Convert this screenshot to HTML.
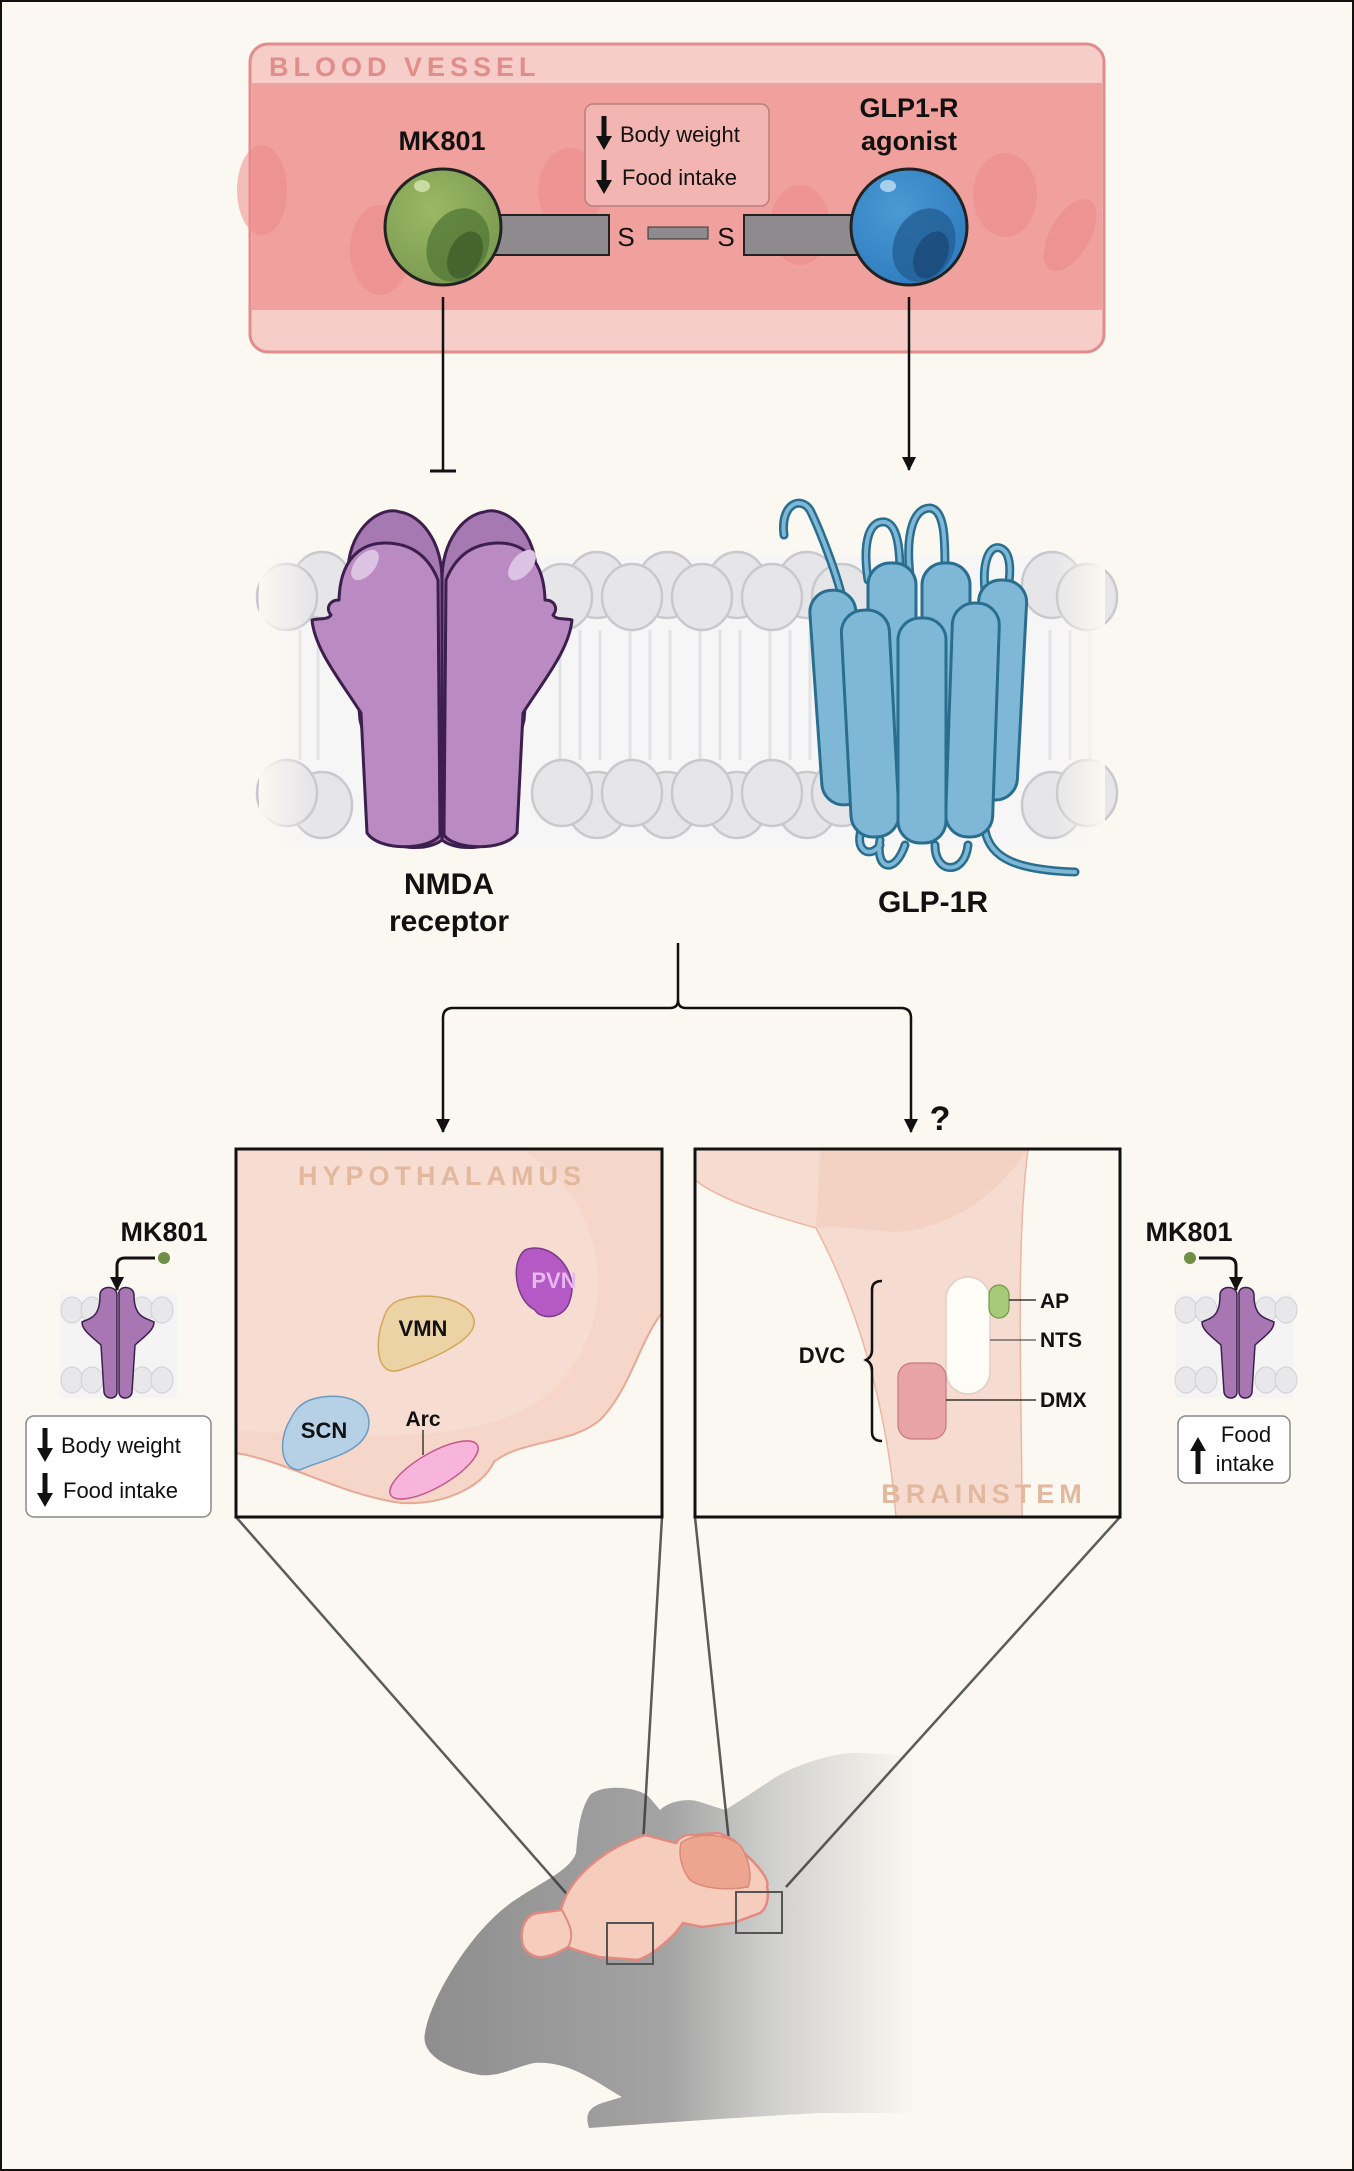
<!DOCTYPE html>
<html><head><meta charset="utf-8"><style>
html,body{margin:0;padding:0;background:#fbf8f1}
svg{display:block}
text{font-family:"Liberation Sans",Arial,sans-serif}
</style></head><body>
<svg width="1354" height="2171" viewBox="0 0 1354 2171" xmlns="http://www.w3.org/2000/svg">
<defs>
<marker id="ah" markerWidth="14" markerHeight="14" refX="13" refY="7" orient="auto" markerUnits="userSpaceOnUse"><path d="M0,0 L14,7 L0,14 z" fill="#111"/></marker>
<linearGradient id="mouse" x1="0" x2="1" y1="0" y2="0"><stop offset="0" stop-color="#8e8e8e"/><stop offset="0.45" stop-color="#a3a3a3"/><stop offset="0.65" stop-color="#d0d0ce"/><stop offset="0.92" stop-color="#fbf8f1"/><stop offset="1" stop-color="#fbf8f1"/></linearGradient>
<radialGradient id="g1" cx="0.4" cy="0.35" r="0.7"><stop offset="0" stop-color="#9ab865"/><stop offset="1" stop-color="#7b9a50"/></radialGradient>
<radialGradient id="b1" cx="0.4" cy="0.35" r="0.7"><stop offset="0" stop-color="#4a9ad4"/><stop offset="1" stop-color="#2f7cbf"/></radialGradient>
<linearGradient id="memfade" x1="0" x2="1"><stop offset="0" stop-color="#fbf8f1"/><stop offset="0.06" stop-color="#fbf8f1" stop-opacity="0"/><stop offset="0.94" stop-color="#fbf8f1" stop-opacity="0"/><stop offset="1" stop-color="#fbf8f1"/></linearGradient>
</defs>
<rect x="1" y="1" width="1352" height="2169" fill="#fbf8f1" stroke="#111" stroke-width="2"/>

<!-- blood vessel -->
<rect x="250" y="44" width="854" height="308" rx="18" fill="#f6cdc8" stroke="#e08d8c" stroke-width="3"/>
<rect x="252" y="83" width="850" height="227" fill="#f0a09d"/>
<g fill="#ec8c8a" opacity="0.55">
<ellipse cx="262" cy="190" rx="25" ry="45"/><ellipse cx="380" cy="250" rx="30" ry="45"/><ellipse cx="570" cy="190" rx="32" ry="42"/>
<ellipse cx="800" cy="225" rx="30" ry="40"/><ellipse cx="1005" cy="195" rx="32" ry="42"/><ellipse cx="1070" cy="235" rx="20" ry="40" transform="rotate(30 1070 235)"/>
</g>
<text x="269" y="76" font-size="27" fill="#e08d8c" letter-spacing="5" font-weight="bold">BLOOD VESSEL</text>
<rect x="585" y="104" width="184" height="102" rx="8" fill="#f3b5b1" stroke="#b87e7e" stroke-width="1.5"/>
<path d="M604 116 v22" stroke="#111" stroke-width="5"/><path d="M596 136 L612 136 L604 150z" fill="#111"/>
<path d="M604 160 v22" stroke="#111" stroke-width="5"/><path d="M596 180 L612 180 L604 194z" fill="#111"/>
<text x="620" y="142" font-size="22" fill="#111">Body weight</text>
<text x="622" y="185" font-size="22" fill="#111">Food intake</text>
<text x="442" y="150" font-size="27" font-weight="bold" text-anchor="middle" fill="#111">MK801</text>
<text x="909" y="117" font-size="27" font-weight="bold" text-anchor="middle" fill="#111">GLP1-R</text>
<text x="909" y="150" font-size="27" font-weight="bold" text-anchor="middle" fill="#111">agonist</text>
<rect x="490" y="215" width="119" height="40" fill="#8f8a8d" stroke="#222" stroke-width="2"/>
<rect x="744" y="215" width="115" height="40" fill="#8f8a8d" stroke="#222" stroke-width="2"/>
<rect x="648" y="227" width="60" height="12" fill="#8f8a8d" stroke="#333" stroke-width="1"/>
<text x="626" y="246" font-size="26" text-anchor="middle" fill="#111">S</text>
<text x="726" y="246" font-size="26" text-anchor="middle" fill="#111">S</text>
<circle cx="443" cy="227" r="58" fill="url(#g1)" stroke="#222" stroke-width="3"/>
<ellipse cx="458" cy="245" rx="30" ry="38" fill="#557a38" opacity="0.8" transform="rotate(25 458 245)"/>
<ellipse cx="465" cy="255" rx="16" ry="25" fill="#3f5e2c" opacity="0.8" transform="rotate(25 465 255)"/>
<ellipse cx="422" cy="186" rx="8" ry="6" fill="#c8dca0"/>
<circle cx="909" cy="227" r="58" fill="url(#b1)" stroke="#222" stroke-width="3"/>
<ellipse cx="924" cy="245" rx="30" ry="38" fill="#235f95" opacity="0.8" transform="rotate(25 924 245)"/>
<ellipse cx="931" cy="255" rx="16" ry="25" fill="#1a4a78" opacity="0.8" transform="rotate(25 931 255)"/>
<ellipse cx="888" cy="186" rx="8" ry="6" fill="#a8d0ee"/>

<!-- connectors top -->
<line x1="443" y1="297" x2="443" y2="470" stroke="#111" stroke-width="2.5"/>
<line x1="430" y1="471" x2="456" y2="471" stroke="#111" stroke-width="3"/>
<line x1="909" y1="297" x2="909" y2="470" stroke="#111" stroke-width="2.5" marker-end="url(#ah)"/>

<!-- membrane -->
<g>
<rect x="259" y="555" width="846" height="292" fill="#f6f6f6"/>
<g stroke="#e2e2e5" stroke-width="3" fill="none">
<path d="M300 630 V760 M318 630 V760 M560 630 V760 M580 630 V760 M600 630 V760 M630 630 V760 M650 630 V760 M670 630 V760 M700 630 V760 M720 630 V760 M740 630 V760 M770 630 V760 M790 630 V760 M810 630 V760 M1050 630 V760 M1070 630 V760 M1090 630 V760"/>
</g>
<g fill="#e6e6e9" stroke="#c8c8cd" stroke-width="2.5">
<ellipse cx="322" cy="585" rx="30" ry="33"/><ellipse cx="597" cy="585" rx="30" ry="33"/><ellipse cx="667" cy="585" rx="30" ry="33"/><ellipse cx="737" cy="585" rx="30" ry="33"/><ellipse cx="807" cy="585" rx="30" ry="33"/><ellipse cx="1052" cy="585" rx="30" ry="33"/>
<ellipse cx="287" cy="597" rx="30" ry="33"/><ellipse cx="562" cy="597" rx="30" ry="33"/><ellipse cx="632" cy="597" rx="30" ry="33"/><ellipse cx="702" cy="597" rx="30" ry="33"/><ellipse cx="772" cy="597" rx="30" ry="33"/><ellipse cx="842" cy="597" rx="30" ry="33"/><ellipse cx="1087" cy="597" rx="30" ry="33"/>
<ellipse cx="322" cy="805" rx="30" ry="33"/><ellipse cx="597" cy="805" rx="30" ry="33"/><ellipse cx="667" cy="805" rx="30" ry="33"/><ellipse cx="737" cy="805" rx="30" ry="33"/><ellipse cx="807" cy="805" rx="30" ry="33"/><ellipse cx="1052" cy="805" rx="30" ry="33"/>
<ellipse cx="287" cy="793" rx="30" ry="33"/><ellipse cx="562" cy="793" rx="30" ry="33"/><ellipse cx="632" cy="793" rx="30" ry="33"/><ellipse cx="702" cy="793" rx="30" ry="33"/><ellipse cx="772" cy="793" rx="30" ry="33"/><ellipse cx="842" cy="793" rx="30" ry="33"/><ellipse cx="1087" cy="793" rx="30" ry="33"/>
</g>
<rect x="259" y="540" width="846" height="320" fill="url(#memfade)"/>
</g>
<!-- NMDA -->
<g stroke="#3d1f4e" stroke-width="3" stroke-linejoin="round">
<path d="M348 580 C345 530 380 505 400 512 C420 515 442 540 442 580 L442 840 C430 850 400 850 390 840 L360 720z" fill="#a779b3"/>
<path d="M536 580 C539 530 504 505 484 512 C464 515 442 540 442 580 L442 840 C454 850 484 850 494 840 L524 720z" fill="#a779b3"/>
<path d="M339 600 C340 560 360 543 385 543 C415 543 430 560 438 580 L440 835 C430 850 380 852 367 833 L361 713 C340 680 315 650 312 620 C320 618 328 620 331 615 C325 608 330 600 339 600z" fill="#b98bc2"/>
<path d="M545 600 C544 560 524 543 499 543 C469 543 454 560 446 580 L444 835 C454 850 504 852 517 833 L523 713 C544 680 569 650 572 620 C564 618 556 620 553 615 C559 608 554 600 545 600z" fill="#b98bc2"/>
</g>
<ellipse cx="365" cy="565" rx="18" ry="10" fill="#dcc3e3" transform="rotate(-50 365 565)"/>
<ellipse cx="522" cy="565" rx="18" ry="10" fill="#dcc3e3" transform="rotate(-50 522 565)"/>
<text x="449" y="894" font-size="30" font-weight="bold" text-anchor="middle" fill="#111">NMDA</text>
<text x="449" y="931" font-size="30" font-weight="bold" text-anchor="middle" fill="#111">receptor</text>
<!-- GLP-1R -->
<g stroke="#2a6e8f" stroke-width="9" fill="none" stroke-linecap="round">
<path d="M784 535 C780 505 800 495 810 510 C820 530 835 570 841 593"/>
<path d="M868 580 C862 540 870 520 885 522 C900 525 900 560 900 575"/>
<path d="M910 575 C905 530 915 508 930 508 C945 510 945 540 945 570"/>
<path d="M985 590 C982 560 990 545 1000 548 C1012 552 1012 575 1005 600"/>
<path d="M880 840 C875 870 895 875 905 845"/>
<path d="M935 845 C935 875 965 875 968 845"/>
<path d="M985 830 C990 860 1020 870 1075 872"/>
<path d="M865 820 C850 850 870 860 880 845"/>
</g>
<g stroke="#7fb8d6" stroke-width="4" fill="none" stroke-linecap="round">
<path d="M784 535 C780 505 800 495 810 510 C820 530 835 570 841 593"/>
<path d="M868 580 C862 540 870 520 885 522 C900 525 900 560 900 575"/>
<path d="M910 575 C905 530 915 508 930 508 C945 510 945 540 945 570"/>
<path d="M985 590 C982 560 990 545 1000 548 C1012 552 1012 575 1005 600"/>
<path d="M880 840 C875 870 895 875 905 845"/>
<path d="M935 845 C935 875 965 875 968 845"/>
<path d="M985 830 C990 860 1020 870 1075 872"/>
<path d="M865 820 C850 850 870 860 880 845"/>
</g>
<g stroke="#2a6e8f" stroke-width="3" fill="#7fb8d6">
<rect x="868" y="563" width="48" height="245" rx="22"/>
<rect x="922" y="563" width="48" height="245" rx="22"/>
<rect x="816" y="590" width="46" height="215" rx="22" transform="rotate(-4 839 700)"/>
<rect x="974" y="580" width="48" height="220" rx="22" transform="rotate(3 998 690)"/>
<rect x="846" y="610" width="48" height="227" rx="22" transform="rotate(-3 870 720)"/>
<rect x="949" y="603" width="47" height="234" rx="22" transform="rotate(2 972 720)"/>
<rect x="898" y="618" width="48" height="225" rx="22"/>
</g>
<text x="933" y="912" font-size="30" font-weight="bold" text-anchor="middle" fill="#111">GLP-1R</text>

<!-- bracket connectors -->
<path d="M678 943 V1000 Q678 1008 670 1008 H453 Q443 1008 443 1018 V1132" stroke="#111" stroke-width="2.5" fill="none" marker-end="url(#ah)"/>
<path d="M678 1000 Q678 1008 686 1008 H901 Q911 1008 911 1018 V1132" stroke="#111" stroke-width="2.5" fill="none" marker-end="url(#ah)"/>
<text x="940" y="1130" font-size="34" font-weight="bold" text-anchor="middle" fill="#111">?</text>

<!-- mouse -->
<path d="M425 2033 C430 2000 470 1930 515 1900 C545 1880 570 1870 576 1853 C578 1830 580 1810 590 1795 C600 1785 635 1785 649 1797 L660 1810 C670 1800 690 1798 700 1802 L725 1810 C750 1795 770 1780 783 1773 C810 1760 840 1752 859 1753 L960 1757 L960 2113 L821 2113 C780 2115 700 2120 589 2128 C585 2115 588 2108 602 2103 L622 2097 C600 2085 570 2060 534 2063 C515 2067 500 2077 480 2075 C450 2070 420 2055 425 2033z" fill="url(#mouse)"/>
<!-- funnel lines -->
<g stroke="#333" stroke-width="2.5" fill="none" opacity="0.8">
<line x1="236" y1="1517" x2="587" y2="1917"/>
<line x1="662" y1="1517" x2="639" y2="1913"/>
<line x1="695" y1="1517" x2="733" y2="1880"/>
<line x1="1120" y1="1517" x2="786" y2="1887"/>
</g>
<!-- brain -->
<path d="M522 1940 C520 1925 528 1914 538 1913 L561 1910 C568 1880 600 1850 645 1835 L676 1843 C680 1836 688 1834 691 1835 L718 1833 C735 1838 742 1848 744 1853 C758 1865 770 1880 767 1887 C770 1900 765 1910 760 1913 L733 1923 L702 1927 L683 1923 C678 1930 672 1937 668 1940 C655 1952 645 1958 637 1960 L599 1957 C585 1953 575 1950 568 1947 C555 1955 545 1958 538 1957 C528 1955 522 1948 522 1940z" fill="#f6cdbd" stroke="#e28a80" stroke-width="2.5"/>
<path d="M681 1843 C690 1835 720 1830 740 1845 C750 1860 752 1878 748 1887 C730 1890 705 1890 690 1880 C682 1870 678 1855 681 1843z" fill="#eda58f" stroke="#d98a7a" stroke-width="1.5"/>
<path d="M562 1910 C570 1925 575 1935 568 1947" stroke="#e28a80" stroke-width="2" fill="none"/>
<rect x="607" y="1923" width="46" height="41" fill="none" stroke="#555" stroke-width="2"/>
<rect x="736" y="1892" width="46" height="41" fill="none" stroke="#555" stroke-width="2"/>

<!-- hypothalamus box -->
<rect x="236" y="1149" width="426" height="368" fill="#fbf8f1"/>
<path d="M236 1149 H662 V1313 C640 1340 630 1390 600 1420 C570 1445 520 1440 494 1462 C480 1490 440 1505 402 1503 C340 1495 290 1462 236 1453z" fill="#f5d6c8" stroke="#e8a896" stroke-width="2"/>
<path d="M520 1149 C610 1200 630 1330 540 1400 C480 1440 400 1440 236 1430 V1149z" fill="#f8e0d4" opacity="0.7"/>
<text x="442" y="1185" font-size="27" fill="#e2b89e" letter-spacing="5" text-anchor="middle" font-weight="bold">HYPOTHALAMUS</text>
<path d="M525 1250 C550 1240 580 1270 570 1300 C565 1320 540 1320 535 1310 C515 1300 510 1262 525 1250z" fill="#b55ac4" stroke="#7a3a8a" stroke-width="1.5"/>
<text x="554" y="1288" font-size="22" font-weight="bold" text-anchor="middle" fill="#e8b8ee">PVN</text>
<path d="M400 1300 C430 1290 470 1300 474 1320 C478 1340 430 1360 400 1370 C375 1378 375 1340 383 1320 C387 1305 395 1302 400 1300z" fill="#ecd3a5" stroke="#d3a75a" stroke-width="1.5"/>
<text x="423" y="1336" font-size="22" font-weight="bold" text-anchor="middle" fill="#111">VMN</text>
<path d="M310 1400 C340 1390 375 1400 368 1430 C360 1455 320 1460 300 1470 C280 1470 278 1440 290 1420 C295 1410 300 1404 310 1400z" fill="#b6d1e6" stroke="#6a9bc3" stroke-width="1.5"/>
<text x="324" y="1438" font-size="22" font-weight="bold" text-anchor="middle" fill="#111">SCN</text>
<ellipse cx="434" cy="1470" rx="50" ry="17" transform="rotate(-30 434 1470)" fill="#f7b5dc" stroke="#c55a8f" stroke-width="1.5"/>
<line x1="423" y1="1430" x2="423" y2="1455" stroke="#111" stroke-width="1.2"/>
<text x="423" y="1426" font-size="21" font-weight="bold" text-anchor="middle" fill="#111">Arc</text>
<rect x="236" y="1149" width="426" height="368" fill="none" stroke="#111" stroke-width="3"/>

<!-- brainstem box -->
<rect x="695" y="1149" width="425" height="368" fill="#fbf8f1"/>
<path d="M695 1149 H1028 C1015 1250 1022 1400 1022 1517 H896 C890 1440 870 1330 816 1228 C770 1215 720 1200 695 1180z" fill="#f6dcd0" stroke="#ebb6a4" stroke-width="1.5"/>
<path d="M820 1149 H1028 C1000 1190 960 1225 900 1232 C870 1232 850 1225 816 1228 Z" fill="#f2cdbd" opacity="0.7"/>
<text x="984" y="1503" font-size="27" fill="#e2b89e" letter-spacing="5" text-anchor="middle" font-weight="bold">BRAINSTEM</text>
<rect x="946" y="1277" width="44" height="117" rx="22" fill="#fefcf6" stroke="#e0cfc2" stroke-width="1.5"/>
<rect x="989" y="1285" width="20" height="33" rx="10" fill="#a7c97a" stroke="#6e9a46" stroke-width="1.2"/>
<rect x="898" y="1363" width="48" height="76" rx="14" fill="#e8a3a6" stroke="#c57a80" stroke-width="1.2"/>
<path d="M882 1281 Q872 1281 872 1290 V1350 Q872 1357 866 1360 Q872 1363 872 1370 V1432 Q872 1441 882 1441" fill="none" stroke="#111" stroke-width="2.5"/>
<line x1="1009" y1="1300" x2="1036" y2="1300" stroke="#111" stroke-width="1.2"/>
<line x1="990" y1="1340" x2="1036" y2="1340" stroke="#555" stroke-width="1.2"/>
<line x1="946" y1="1400" x2="1036" y2="1400" stroke="#111" stroke-width="1.2"/>
<text x="1040" y="1308" font-size="21" font-weight="bold" fill="#111">AP</text>
<text x="1040" y="1347" font-size="21" font-weight="bold" fill="#111">NTS</text>
<text x="1040" y="1407" font-size="21" font-weight="bold" fill="#111">DMX</text>
<text x="822" y="1363" font-size="22" font-weight="bold" text-anchor="middle" fill="#111">DVC</text>
<rect x="695" y="1149" width="425" height="368" fill="none" stroke="#111" stroke-width="3"/>

<!-- left inset -->
<text x="164" y="1241" font-size="27" font-weight="bold" text-anchor="middle" fill="#111">MK801</text>
<circle cx="164" cy="1258" r="6" fill="#6e8f45"/>
<path d="M155 1258 H125 Q117 1258 117 1266 V1290" stroke="#111" stroke-width="3" fill="none" marker-end="url(#ah)"/>
<rect x="60" y="1293" width="117" height="105" fill="#f4f4f4"/>
<g fill="#e8e8ea" stroke="#d0d0d4" stroke-width="1">
<ellipse cx="72" cy="1310" rx="11" ry="13"/><ellipse cx="92" cy="1310" rx="11" ry="13"/><ellipse cx="142" cy="1310" rx="11" ry="13"/><ellipse cx="162" cy="1310" rx="11" ry="13"/>
<ellipse cx="72" cy="1380" rx="11" ry="13"/><ellipse cx="92" cy="1380" rx="11" ry="13"/><ellipse cx="142" cy="1380" rx="11" ry="13"/><ellipse cx="162" cy="1380" rx="11" ry="13"/>
</g>
<g fill="#a877b3" stroke="#3d1f4e" stroke-width="1.5">
<path d="M100 1295 C100 1285 117 1285 117 1295 V1392 C117 1400 105 1400 104 1392 L101 1345 C90 1335 82 1330 82 1322 C90 1318 100 1318 100 1295z"/>
<path d="M134 1295 C134 1285 117 1285 119 1295 V1392 C119 1400 131 1400 132 1392 L135 1345 C146 1335 154 1330 154 1322 C146 1318 134 1318 134 1295z"/>
</g>
<rect x="26" y="1416" width="185" height="101" rx="8" fill="#fff" stroke="#888" stroke-width="1.5"/>
<path d="M45 1428 v22" stroke="#111" stroke-width="5"/><path d="M37 1448 L53 1448 L45 1462z" fill="#111"/>
<path d="M45 1473 v22" stroke="#111" stroke-width="5"/><path d="M37 1493 L53 1493 L45 1507z" fill="#111"/>
<text x="61" y="1453" font-size="22" fill="#111">Body weight</text>
<text x="63" y="1498" font-size="22" fill="#111">Food intake</text>

<!-- right inset -->
<text x="1189" y="1241" font-size="27" font-weight="bold" text-anchor="middle" fill="#111">MK801</text>
<circle cx="1190" cy="1258" r="6" fill="#6e8f45"/>
<path d="M1199 1258 H1228 Q1236 1258 1236 1266 V1290" stroke="#111" stroke-width="3" fill="none" marker-end="url(#ah)"/>
<rect x="1176" y="1293" width="117" height="105" fill="#f4f4f4"/>
<g fill="#e8e8ea" stroke="#d0d0d4" stroke-width="1">
<ellipse cx="1186" cy="1310" rx="11" ry="13"/><ellipse cx="1206" cy="1310" rx="11" ry="13"/><ellipse cx="1266" cy="1310" rx="11" ry="13"/><ellipse cx="1286" cy="1310" rx="11" ry="13"/>
<ellipse cx="1186" cy="1380" rx="11" ry="13"/><ellipse cx="1206" cy="1380" rx="11" ry="13"/><ellipse cx="1266" cy="1380" rx="11" ry="13"/><ellipse cx="1286" cy="1380" rx="11" ry="13"/>
</g>
<g fill="#a877b3" stroke="#3d1f4e" stroke-width="1.5">
<path d="M1220 1295 C1220 1285 1237 1285 1237 1295 V1392 C1237 1400 1225 1400 1224 1392 L1221 1345 C1210 1335 1202 1330 1202 1322 C1210 1318 1220 1318 1220 1295z"/>
<path d="M1254 1295 C1254 1285 1237 1285 1239 1295 V1392 C1239 1400 1251 1400 1252 1392 L1255 1345 C1266 1335 1274 1330 1274 1322 C1266 1318 1254 1318 1254 1295z"/>
</g>
<rect x="1178" y="1416" width="112" height="67" rx="8" fill="#fff" stroke="#888" stroke-width="1.5"/>
<path d="M1198 1437 L1190 1451 L1206 1451z" fill="#111"/><path d="M1198 1449 v25" stroke="#111" stroke-width="5"/>
<text x="1246" y="1442" font-size="22" fill="#111" text-anchor="middle">Food</text>
<text x="1245" y="1471" font-size="22" fill="#111" text-anchor="middle">intake</text>
</svg>
</body></html>
